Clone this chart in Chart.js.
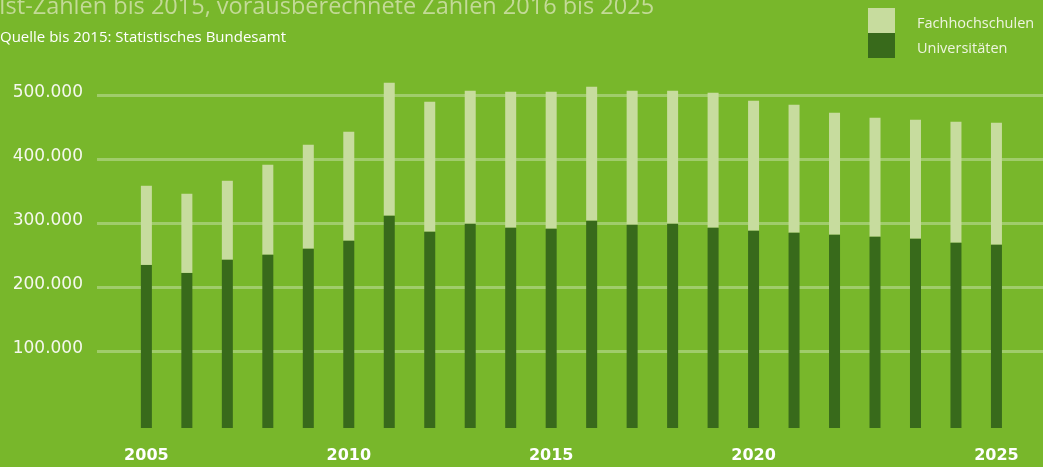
<!DOCTYPE html>
<html lang="de">
<head>
<meta charset="utf-8">
<title>Studienanfänger</title>
<script src="https://cdn.jsdelivr.net/npm/chart.js@4.4.1/dist/chart.umd.min.js"></script>
<style>
  html, body { margin: 0; padding: 0; background: #78b72b; overflow: hidden; }
  #wrap { position: relative; width: 1043px; height: 467px; }
  #title { position: absolute; left: -1px; top: -11px; font: 23.5px 'Open Sans'; color: #c3da97; white-space: nowrap; }
  #source { position: absolute; left: 0; top: 26px; font: 15px 'Open Sans'; color: #ffffff; white-space: nowrap; }
  #legend { position: absolute; left: 868px; top: 8px; }
  .item { display: flex; align-items: center; height: 25px; font: 14.5px 'Open Sans'; color: #eef4e0; }
  .item span { position: relative; top: 2px; }
  .swatch { width: 27px; height: 25px; margin-right: 22px; }
  canvas { position: absolute; left: 0; top: 0; }
</style>
</head>
<body>
<div id="wrap">
  <canvas id="chart" width="1043" height="467"></canvas>
  <div id="title">Ist-Zahlen bis 2015, vorausberechnete Zahlen 2016 bis 2025</div>
  <div id="source">Quelle bis 2015: Statistisches Bundesamt</div>
  <div id="legend"></div>
</div>
<script>
// Jahre (eine Säule pro Jahr)
const years = [2005, 2006, 2007, 2008, 2009, 2010, 2011, 2012, 2013, 2014, 2015,
               2016, 2017, 2018, 2019, 2020, 2021, 2022, 2023, 2024, 2025, 2026];

// Studienanfänger
const universitaeten = [235000, 222500, 242900, 250700, 260100, 272600, 311700, 286700, 299200, 293000, 291400,
                        303900, 297700, 299200, 293000, 288300, 285100, 282000, 278900, 275800, 269500, 266400];
const fachhochschulen = [123700, 123700, 123600, 140800, 162700, 170600, 208200, 203400, 208200, 212800, 214400,
                         209700, 209700, 208200, 211200, 203400, 200300, 190900, 186200, 186200, 189300, 190900];

// Beschriftung der x-Achse (unter der jeweiligen Säule)
const tickYears = [2005, 2010, 2015, 2020, 2026];
const tickLabels = ['2005', '2010', '2015', '2020', '2025'];

// y-Achse
const yTicks = [100000, 200000, 300000, 400000, 500000];
const axisFloor = -20000;

const colors = {
    uni: '#386a1b',
    fh: '#c7dc9e',
    grid: 'rgba(255,255,255,0.3)',
    text: '#f5f8ee'
};

function formatNumber(v) {
    return String(v).replace(/\B(?=(\d{3})+(?!\d))/g, '.');
}

const ctx = document.getElementById('chart').getContext('2d');

const chart = new Chart(ctx, {
    type: 'bar',
    data: {
        labels: years,
        datasets: [
            {
                label: 'Universitäten',
                data: universitaeten,
                backgroundColor: colors.uni,
                base: axisFloor
            },
            {
                label: 'Fachhochschulen',
                data: fachhochschulen,
                backgroundColor: colors.fh
            }
        ]
    },
    options: {
        responsive: false,
        animation: false,
        devicePixelRatio: 1,
        layout: { padding: { top: 57, left: 0, right: 0, bottom: 0 } },
        datasets: {
            bar: {
                grouped: false,
                borderWidth: 0,
                categoryPercentage: 1,
                barPercentage: 0.2718
            }
        },
        plugins: {
            legend: { display: false },
            tooltip: { enabled: false },
            title: { display: false }
        },
        scales: {
            x: {
                type: 'linear',
                offset: false,
                min: 2003.78,
                max: 2027.15,
                grid: { display: false, drawTicks: false },
                border: { display: false },
                afterBuildTicks: scale => {
                    scale.ticks = tickYears.map(v => ({ value: v }));
                },
                afterFit: scale => { scale.height = 39; },
                ticks: {
                    autoSkip: false,
                    maxRotation: 0,
                    padding: 18,
                    color: '#ffffff',
                    font: { family: 'DejaVu Sans', size: 16, weight: 'bold' },
                    callback: value => {
                        const i = tickYears.indexOf(value);
                        return i >= 0 ? tickLabels[i] : '';
                    }
                }
            },
            y: {
                stacked: true,
                min: axisFloor,
                max: 560000,
                grid: {
                    drawTicks: false,
                    lineWidth: 3,
                    color: c => (yTicks.includes(c.tick.value) ? colors.grid : 'transparent')
                },
                border: { display: false },
                afterBuildTicks: scale => {
                    scale.ticks = yTicks.map(v => ({ value: v }));
                },
                afterFit: scale => { scale.width = 97; },
                ticks: {
                    padding: 14,
                    labelOffset: -3,
                    color: colors.text,
                    font: { family: 'DejaVu Sans', size: 17 },
                    callback: value => formatNumber(value)
                }
            }
        }
    }
});

// Legende (Fachhochschulen oben, Universitäten unten)
const legend = document.getElementById('legend');
chart.data.datasets.slice().reverse().forEach(ds => {
    const item = document.createElement('div');
    item.className = 'item';
    const sw = document.createElement('div');
    sw.className = 'swatch';
    sw.style.background = ds.backgroundColor;
    const label = document.createElement('span');
    label.textContent = ds.label;
    item.appendChild(sw);
    item.appendChild(label);
    legend.appendChild(item);
});
</script>
</body>
</html>
